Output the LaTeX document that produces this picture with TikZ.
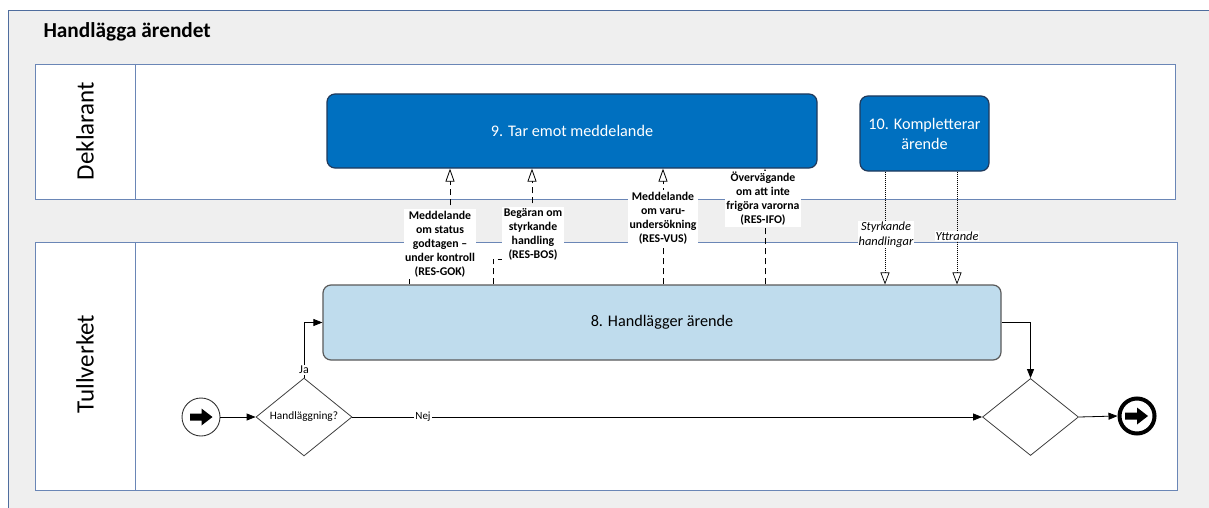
\documentclass[tikz,border=0pt]{standalone}
\usepackage{fontspec}
\setmainfont{Carlito}
\usetikzlibrary{shapes.geometric,arrows.meta,calc}
\definecolor{framegrey}{HTML}{EFEFEF}
\definecolor{framecol}{HTML}{4F6D9E}
\definecolor{lanecol}{HTML}{6A86B6}
\definecolor{darkblue}{HTML}{0070C0}
\definecolor{darkborder}{HTML}{203A5C}
\definecolor{lightblue}{HTML}{BFDCED}
\definecolor{lightborder}{HTML}{5A5A5A}
\begin{document}
\begin{tikzpicture}[x=1pt,y=-1pt,
  lane/.style={draw=lanecol, line width=0.9pt, fill=white},
  lanelabel/.style={rotate=90, font=\fontsize{25}{28}\selectfont},
  darktask/.style={rectangle, rounded corners=8pt, draw=darkborder, line width=1.2pt, fill=darkblue, text=white, align=center, inner sep=0pt, font=\fontsize{16.2}{20}\selectfont},
  lighttask/.style={rectangle, rounded corners=8pt, draw=lightborder, line width=1.2pt, fill=lightblue, align=center, inner sep=0pt, font=\fontsize{16.2}{20}\selectfont},
  gateway/.style={diamond, draw=black!75, line width=0.8pt, fill=white, minimum width=96pt, minimum height=77pt, inner sep=0pt, font=\fontsize{11.3}{13}\selectfont},
  startev/.style={circle, draw=black!80, line width=0.9pt, fill=white, minimum size=38pt, inner sep=0pt},
  endev/.style={circle, draw=black, line width=4pt, fill=white, minimum size=35pt, inner sep=0pt},
  flow/.style={line width=0.8pt, -{Triangle[length=9pt,width=7pt]}},
  msg/.style={line width=0.8pt, dash pattern=on 6pt off 4pt, -{Triangle[open,length=13pt,width=9pt,fill=white]}},
  dotmsg/.style={line width=0.7pt, dash pattern=on 1pt off 1pt, -{Triangle[open,length=12pt,width=9pt,fill=white]}},
  msglabel/.style={fill=white, inner sep=1.5pt, align=center, font=\fontsize{11.8}{14}\selectfont\bfseries},
  itlabel/.style={fill=white, inner sep=1pt, align=center, font=\fontsize{12.4}{15}\selectfont\itshape},
  flowlabel/.style={fill=white, inner sep=1pt, font=\fontsize{12}{14}\selectfont},
  icon/.style={fill=black}
]
\useasboundingbox (0,0) rectangle (1209,508);
\clip (0,0) rectangle (1209,508);
% outer frame
\draw[draw=framecol, line width=0.9pt, fill=framegrey] (8,10) rectangle (1230,530);
\node[anchor=west, font=\fontsize{21.3}{24}\selectfont\bfseries] (title) at (40,32) {Handlägga ärendet};
% lanes
\draw[lane] (35,64) rectangle (1175,199);
\draw[lane] (35,242) rectangle (1177,490);
\draw[lanecol, line width=0.9pt] (135,64) -- (135,199) (135,242) -- (135,490);
\node[lanelabel] (lane1) at (85,131) {Deklarant};
\node[lanelabel] (lane2) at (85,364) {Tullverket};
% tasks
\node[darktask, minimum width=490pt, minimum height=74pt] (b9) at (572,131) {9. Tar emot meddelande};
\node[darktask, minimum width=129pt, minimum height=75pt] (b10) at (924.5,133.5) {10. Kompletterar\\ärende};
\node[lighttask, minimum width=678pt, minimum height=75pt] (b8) at (662,322.5) {8. Handlägger ärende};
% events and gateways
\node[startev] (start) at (201,417) {};
\fill[icon] ($(start.center)+(-11,-3.5)$) -- ++(11.5,0) -- ++(0,-5) -- ++(11,8.5) -- ++(-11,8.5) -- ++(0,-5) -- ++(-11.5,0) -- cycle;
\node[gateway] (g1) at (304,417) {Handläggning?};
\node[gateway] (g2) at (1030.5,417) {};
\node[endev] (end) at (1137,416) {};
\fill[icon] ($(end.center)+(-12,-3.5)$) -- ++(12,0) -- ++(0,-5) -- ++(11,8.5) -- ++(-11,8.5) -- ++(0,-5) -- ++(-12,0) -- cycle;
% sequence flows
\draw[flow] (start) -- (g1.west);
\draw[flow] (g1.north) |- (b8.west);
\node[flowlabel] (ja) at (304,370) {Ja};
\draw[flow] (g1.east) -- (g2.west);
\node[flowlabel, font=\fontsize{11}{13}\selectfont] (nej) at (423,417) {Nej};
\draw[flow] (b8.east) -| (g2.north);
\draw[flow] (g2.east) -- (end.west);
% message flows
\draw[msg] (409,0 |- b8.north) |- (450,250) -- (450,0 |- b9.south);
\draw[msg] (493,0 |- b8.north) |- (532,259) -- (532,0 |- b9.south);
\draw[msg] (663,0 |- b8.north) -- (663,0 |- b9.south);
\draw[msg] (765,0 |- b8.north) -- (765,0 |- b9.south);
\node[msglabel] (l1) at (440,244) {Meddelande\\om status\\godtagen –\\under kontroll\\(RES-GOK)};
\node[msglabel] (l2) at (533,234) {Begäran om\\styrkande\\handling\\(RES-BOS)};
\node[msglabel] (l3) at (663,218) {Meddelande\\om varu-\\undersökning\\(RES-VUS)};
\node[msglabel] (l4) at (763,199) {Övervägande\\om att inte\\frigöra varorna\\(RES-IFO)};
\draw[dotmsg] (885,0 |- b10.south) -- (885,0 |- b8.north);
\draw[dotmsg] (957,0 |- b10.south) -- (957,0 |- b8.north);
\node[itlabel] (s1) at (886,234.5) {Styrkande\\handlingar};
\node[itlabel] (s2) at (957,236) {Yttrande};
\end{tikzpicture}
\end{document}
